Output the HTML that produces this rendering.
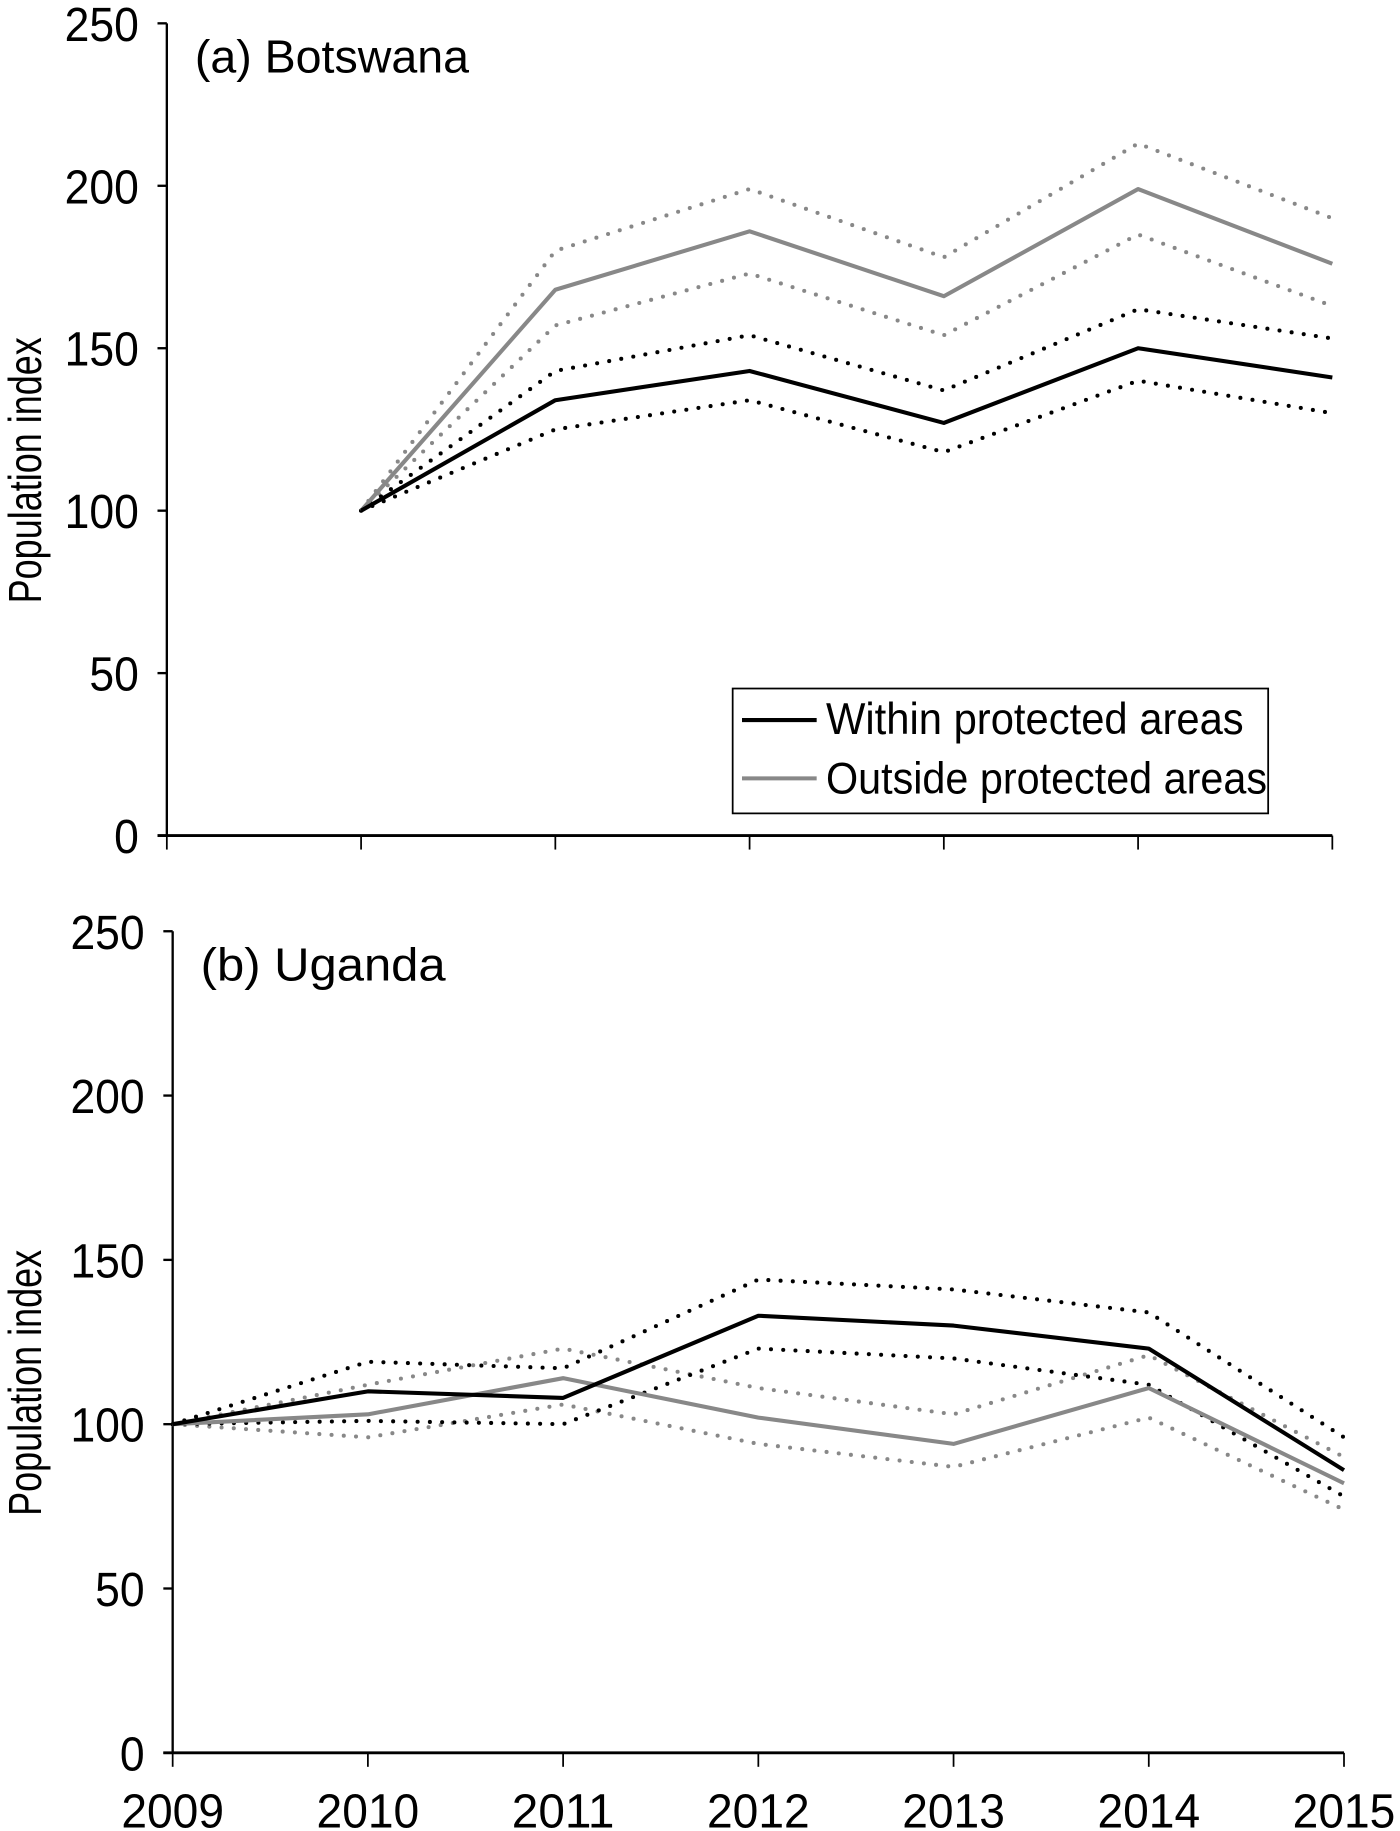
<!DOCTYPE html>
<html><head><meta charset="utf-8"><style>
html,body{margin:0;padding:0;background:#fff;}
svg{display:block;}
text{font-family:"Liberation Sans",Arial,sans-serif;fill:#000;}
</style></head><body>
<svg id="chart" width="1400" height="1831" viewBox="0 0 1200 1569" preserveAspectRatio="none" xmlns="http://www.w3.org/2000/svg"></svg>
<script>
const years = [2009,2010,2011,2012,2013,2014,2015];
const yTicks = [0,50,100,150,200,250];
// Botswana (starts 2010)
const bwWithin = [null,100,134,143,127,150,141];
const bwWithinHi = [null,100,143,154,137,162,153];
const bwWithinLo = [null,100,125,134,118,140,130];
const bwOutside = [null,100,168,186,166,199,176];
const bwOutsideHi = [null,100,180,199,178,213,190];
const bwOutsideLo = [null,100,157,173,154,185,163];
// Uganda
const ugWithin = [100,110,108,133,130,123,86];
const ugWithinHi = [100,119,117,144,141,134,96];
const ugWithinLo = [100,101,100,123,120,112,78];
const ugOutside = [100,103,114,102,94,111,82];
const ugOutsideHi = [100,112,123,111,103,121,90];
const ugOutsideLo = [100,96,106,94,87,102,74];

const NS='http://www.w3.org/2000/svg';
const svg=document.getElementById('chart');
function el(tag,attrs,parent){const e=document.createElementNS(NS,tag);for(const k in attrs)e.setAttribute(k,attrs[k]);(parent||svg).appendChild(e);return e;}

function panel(cfg){
  const g=el('g',{});
  
  
  const x=i=>cfg.x0+(cfg.x1-cfg.x0)*i/(years.length-1);
  const y=v=>cfg.y0-(cfg.y0-cfg.y1)*v/250;
  const ya=el('line',{x1:cfg.x0,x2:cfg.x0,y1:y(250),y2:y(0),stroke:'#000','stroke-width':2},g);
  
  
  const xa=el('line',{x1:cfg.x0-8,x2:cfg.x1,y1:y(0),y2:y(0),stroke:'#000','stroke-width':2.5},g);
  
  
  const lx=cfg.x0-24;
  yTicks.forEach(t=>{
    el('line',{x1:cfg.x0-8,x2:cfg.x0,y1:y(t),y2:y(t),stroke:'#000','stroke-width':2},g);
    const tx=el('text',{x:lx,y:y(t)+15,'text-anchor':'end','font-size':41,transform:`translate(${lx},0) scale(0.93,1) translate(${-lx},0)`},g);
    tx.textContent=t;
    
    
  });
  years.forEach((yr,i)=>{
    el('line',{x1:x(i),x2:x(i),y1:y(0),y2:y(0)+12,stroke:'#000','stroke-width':1.5},g);
    if(cfg.xlabels){
      const tx=el('text',{x:x(i),y:y(0)+64,'text-anchor':'middle','font-size':41,textLength:88,lengthAdjust:'spacingAndGlyphs'},g);
      tx.textContent=yr;
      
      
    }
  });
  const yl=el('text',{x:0,y:0,'text-anchor':'middle','font-size':40,textLength:228,lengthAdjust:'spacingAndGlyphs',transform:`translate(35,${(y(0)+y(250))/2+35}) rotate(-90)`},g);
  yl.textContent='Population index';
  
  
  const tt=el('text',{x:cfg.x0+24,y:y(250)+42,'font-size':40,textLength:cfg.tlen,lengthAdjust:'spacingAndGlyphs'},g);
  tt.textContent=cfg.title;
  
  
  function series(arr,color,dotted,name){
    const pts=[];arr.forEach((v,i)=>{if(v!==null)pts.push(x(i)+','+y(v));});
    const a={points:pts.join(' '),fill:'none',stroke:color,'stroke-linejoin':'round'};
    if(dotted){a['stroke-width']=3.5;a['stroke-dasharray']='0 10.5';a['stroke-linecap']='round';}
    else a['stroke-width']=3.5;
    const p=el('polyline',a,g);
    
    
  }
  const G='#888';
  series(cfg.d.oHi,G,true,'outside-upper-ci');
  series(cfg.d.oLo,G,true,'outside-lower-ci');
  series(cfg.d.wHi,'#000',true,'within-upper-ci');
  series(cfg.d.wLo,'#000',true,'within-lower-ci');
  series(cfg.d.o,G,false,'outside-line');
  series(cfg.d.w,'#000',false,'within-line');
  return g;
}
panel({name:'panel-botswana',title:'(a) Botswana',tlen:235,x0:143,x1:1142,y0:716,y1:20,xlabels:false,
  d:{w:bwWithin,wHi:bwWithinHi,wLo:bwWithinLo,o:bwOutside,oHi:bwOutsideHi,oLo:bwOutsideLo}});
panel({name:'panel-uganda',title:'(b) Uganda',tlen:210,x0:148,x1:1152,y0:1502,y1:798,xlabels:true,
  d:{w:ugWithin,wHi:ugWithinHi,wLo:ugWithinLo,o:ugOutside,oHi:ugOutsideHi,oLo:ugOutsideLo}});

const lg=el('g',{});


el('rect',{x:628,y:590,width:459,height:107,fill:'#fff',stroke:'#000','stroke-width':1.5},lg);
const e1=el('line',{x1:636,x2:700,y1:617,y2:617,stroke:'#000','stroke-width':3.5},lg);


const t1=el('text',{x:708,y:629,'font-size':38,textLength:358,lengthAdjust:'spacingAndGlyphs'},lg);
t1.textContent='Within protected areas';


const e2=el('line',{x1:636,x2:700,y1:667,y2:667,stroke:'#888','stroke-width':3.5},lg);


const t2=el('text',{x:708,y:680,'font-size':38,textLength:378,lengthAdjust:'spacingAndGlyphs'},lg);
t2.textContent='Outside protected areas';


</script>
</body></html>
